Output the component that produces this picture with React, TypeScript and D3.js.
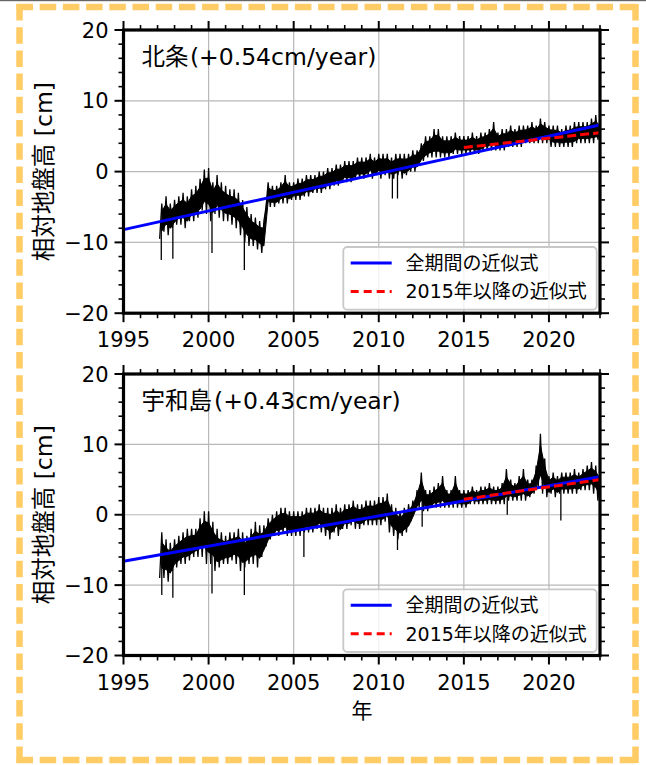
import React from 'react';
import * as d3 from 'd3';

// ---------- data (cm), sampled every 0.25 yr from 1997.25 to 2023.00 ----------
const SAMPLE_START = 1997.25;
const SAMPLE_STEP = 0.25;

// 北条 upper / lower envelope of the daily series
const hojoHi = [
  -4.5, -3.5, -4.5,
  -4, -3.5, -3, -3.5,
  -2.5, -2, -1, 0.3,
  0.5, -1.5, -0.5, -1.5,
  -2, -2.5, -2.5, -3,
  -4, -5, -6, -6.5,
  -7, -7, -1.5, -2,
  -2, -1.5, -0.5, -1.5,
  -1.5, -1, -1, -0.5,
  -0.5, -0.5, 0, 0,
  0.5, 0.5, 1, 1,
  1.5, 1.5, 1.5, 2,
  2, 2, 2.5, 2,
  2.5, 2.5, 2.5, 2,
  2.5, 2.5, 2.5, 2.5,
  3, 3, 4, 5,
  5, 6, 6, 5,
  5, 5, 5.5, 5,
  5, 5, 5.5, 5,
  5.5, 5.5, 6, 7,
  5.5, 6, 6, 6.5,
  6, 6.5, 6.5, 6.5,
  7, 6.5, 7.5, 7,
  6.5, 6.5, 6.5, 6,
  6.5, 6.5, 7, 7,
  7, 7, 7.5, 8,
  7,
];
const hojoLo = [
  -9.5, -8.5, -9,
  -8, -7.5, -7.5, -8,
  -7, -7, -6.5, -5.5,
  -6, -7, -6, -6.5,
  -7, -7, -7.5, -8,
  -9, -10, -10.5, -10.5,
  -11, -11.5, -5, -5,
  -5, -4.5, -4.5, -4.5,
  -4, -4, -4, -3.5,
  -3.5, -3, -3, -3,
  -2.5, -2.5, -2, -2,
  -1.5, -1.5, -1.5, -1,
  -1, -1, -0.5, -1,
  -0.5, -1, -0.5, -1,
  -1, -0.5, -1, -0.5,
  0, 0, 1, 1.5,
  2, 2, 2, 2,
  2, 2, 2.5, 2.5,
  2.5, 2.5, 2.5, 2.5,
  2.5, 3, 3, 3,
  3, 3, 3, 3.5,
  3.5, 3.5, 3.5, 4,
  4, 4, 4, 4,
  4, 3.5, 3.5, 3.5,
  3.5, 3.5, 3.5, 4,
  4, 4, 4, 4,
  4.5,
];
const hojoSpikes: [number, number][] = [
  [1997.22, -12.5], [1997.9, -12.3], [2000.2, -11.5], [2002.1, -13.9],
  [2010.8, -3.8], [2011.1, -3.8],
];

// 宇和島 upper / lower envelope
const uwaHi = [
  -2.5, -3.5, -4,
  -3.5, -3, -2.5, -2,
  -2, -2, -0.5, 0.5,
  0.5, -1, -2, -2.5,
  -3, -2.5, -2.5, -2,
  -2.5, -3, -2, -1,
  -1.5, -1.5, -0.5, 0,
  0.5, 1, 1, 0.5,
  0.5, 0.5, 0.5, 1,
  1, 1, 1.5, 1,
  1, 1, 1.5, 1,
  1.5, 1.5, 2, 1.5,
  1.5, 2, 2, 2,
  2.5, 2.5, 3, 1.5,
  1, 0.5, 1, 1.5,
  2, 3.5, 6, 3.5,
  3.5, 4, 4.5, 5.5,
  3.5, 3.5, 5.5, 3.5,
  3.5, 3.5, 4, 3.5,
  4, 4, 4.5, 4,
  4, 4.5, 6.5, 5,
  4.5, 5.5, 6.5, 5,
  5, 7, 11.5, 8,
  5.5, 6, 5.5, 6,
  6, 6, 6.5, 6,
  6.5, 7, 7.5, 7,
  6,
];
const uwaLo = [
  -9, -9, -9.5,
  -8, -7.5, -7, -7,
  -6.5, -6, -6, -6,
  -7, -7, -8, -7.5,
  -7, -7, -6.5, -7,
  -8, -7.5, -7, -7,
  -7.5, -6, -4.5, -3.5,
  -3, -3, -2.5, -3,
  -3, -3, -3, -2.5,
  -2.5, -2.5, -2, -2.5,
  -3, -3.5, -2.5, -3,
  -2, -2, -1.5, -2,
  -2, -1.5, -1.5, -1.5,
  -1.5, -1.5, -1, -2.5,
  -3, -3.5, -3, -2.5,
  -1, 0.5, 1, 0.5,
  0.5, 1, 1, 1,
  1, 1, 1, 1,
  1, 1, 1.5, 1.5,
  1.5, 1.5, 1.5, 1.5,
  1.5, 1.5, 1.5, 2,
  2, 2, 2, 2,
  2.5, 3, 4, 3,
  2.5, 3, 2.5, 3,
  3, 3, 3, 3,
  3.5, 3.5, 3.5, 3,
  2,
];
const uwaSpikes: [number, number][] = [
  [1997.25, -11.4], [1997.9, -11.8], [2000.2, -11.2], [2002.1, -11.4],
  [2005.6, -6], [2011.1, -5], [2012.55, -1.7], [2017.55, 0], [2020.7, -0.8],
];

// linear fits: [year, cm]
const hojoFitAll: [number, number][] = [[1995, -8.2], [2023, 6.6]];
const hojoFit2015: [number, number][] = [[2015, 3.4], [2023, 5.5]];
const uwaFitAll: [number, number][] = [[1995, -6.6], [2023, 5.4]];
const uwaFit2015: [number, number][] = [[2015, 2.2], [2023, 5.0]];

const stationNames = ['北条', '宇和島'];
const rateLabels = ['(+0.54cm/year)', '(+0.43cm/year)'];
const legendLabels = ['全期間の近似式', '2015年以降の近似式'];
const xMajorTicks = [1995, 2000, 2005, 2010, 2015, 2020];
const yMajorTicks = [-20, -10, 0, 10, 20];
const xDomain = [1995, 2023];
const yDomain = [-20, 20];
const yLabel = '相対地盤高 [cm]';
const xLabel = '年';

const FONT = "'DejaVu Sans', 'Noto Sans CJK JP', sans-serif";

type PanelProps = {
  top: number;
  bottom: number;
  hi: number[];
  lo: number[];
  spikes: [number, number][];
  fitAll: [number, number][];
  fit2015: [number, number][];
  name: string;
  rate: string;
  id: string;
};

function Panel({ top, bottom, hi, lo, spikes, fitAll, fit2015, name, rate, id }: PanelProps) {
  const left = 123.5;
  const right = 600;
  const x = d3.scaleLinear().domain(xDomain).range([left, right]);
  const y = d3.scaleLinear().domain(yDomain).range([bottom, top]);
  const line = d3.line<[number, number]>().x((d) => x(d[0])).y((d) => y(d[1]));

  const years = hi.map((_, i) => SAMPLE_START + i * SAMPLE_STEP);
  // jagged outline: alternate between the envelope extremes
  const pts: [number, number][] = [];
  years.forEach((t, i) => {
    pts.push([t - SAMPLE_STEP / 2, lo[i]]);
    pts.push([t, hi[i]]);
  });
  const dataPath = line(pts) || '';
  // solid core of the dense daily band
  const core = d3
    .area<number>()
    .x((_, i) => x(years[i]))
    .y0((_, i) => y(lo[i] + 0.22 * (hi[i] - lo[i])))
    .y1((_, i) => y(hi[i] - 0.22 * (hi[i] - lo[i])));
  const corePath = core(hi) || '';
  const spikePath = spikes
    .map(([t, v]) => {
      const i = Math.max(0, Math.min(hi.length - 1, Math.round((t - SAMPLE_START) / SAMPLE_STEP)));
      const mid = (hi[i] + lo[i]) / 2;
      return `M${x(t)},${y(mid)}L${x(t)},${y(v)}`;
    })
    .join('');

  const xMinor = d3.range(xDomain[0], xDomain[1] + 1, 1).filter((v) => !xMajorTicks.includes(v));
  const yMinor = d3.range(yDomain[0], yDomain[1] + 1, 2).filter((v) => !yMajorTicks.includes(v));
  const MAJ = 9;
  const MIN = 5;

  const legX = 343.3;
  const legW = 253.4;
  const legH = 62.7;
  const legY = bottom - 3.5 - legH;

  const nameWidth = name.length * 24.2;
  const titleY = top + 27;

  return (
    <g>
      <defs>
        <clipPath id={id}>
          <rect x={left} y={top} width={right - left} height={bottom - top} />
        </clipPath>
      </defs>
      {/* grid */}
      <g stroke="#b8b8b8" strokeWidth={1.2}>
        {xMajorTicks.filter((v) => v > xDomain[0]).map((v) => (
          <line key={'gx' + v} x1={x(v)} x2={x(v)} y1={top} y2={bottom} />
        ))}
        {yMajorTicks.filter((v) => v > yDomain[0] && v < yDomain[1]).map((v) => (
          <line key={'gy' + v} x1={left} x2={right} y1={y(v)} y2={y(v)} />
        ))}
      </g>
      <g clipPath={`url(#${id})`}>
        <path d={corePath} fill="#000" stroke="#000" strokeWidth={1} />
        <path d={dataPath} fill="none" stroke="#000" strokeWidth={1.3} strokeLinejoin="miter" />
        <path d={spikePath} fill="none" stroke="#000" strokeWidth={1.3} />
        <path d={line(fitAll) || ''} fill="none" stroke="#0000ff" strokeWidth={3} />
        <path d={line(fit2015) || ''} fill="none" stroke="#ff0000" strokeWidth={3} strokeDasharray="9 4" />
      </g>
      {/* ticks */}
      <g stroke="#000">
        {xMajorTicks.map((v) => (
          <g key={'xt' + v} strokeWidth={2}>
            <line x1={x(v)} x2={x(v)} y1={bottom} y2={bottom + MAJ} />
            <line x1={x(v)} x2={x(v)} y1={top} y2={top - MAJ} />
          </g>
        ))}
        {xMinor.map((v) => (
          <g key={'xm' + v} strokeWidth={1.6}>
            <line x1={x(v)} x2={x(v)} y1={bottom} y2={bottom + MIN} />
            <line x1={x(v)} x2={x(v)} y1={top} y2={top - MIN} />
          </g>
        ))}
        {yMajorTicks.map((v) => (
          <g key={'yt' + v} strokeWidth={2}>
            <line x1={left} x2={left - MAJ} y1={y(v)} y2={y(v)} />
            <line x1={right} x2={right + MAJ} y1={y(v)} y2={y(v)} />
          </g>
        ))}
        {yMinor.map((v) => (
          <g key={'ym' + v} strokeWidth={1.6}>
            <line x1={left} x2={left - MIN} y1={y(v)} y2={y(v)} />
            <line x1={right} x2={right + MIN} y1={y(v)} y2={y(v)} />
          </g>
        ))}
      </g>
      <rect x={left} y={top} width={right - left} height={bottom - top} fill="none" stroke="#000" strokeWidth={3.2} />
      {/* tick labels */}
      <g fontSize={21} fill="#000">
        {xMajorTicks.map((v) => (
          <text key={'xl' + v} x={x(v)} y={bottom + 34} textAnchor="middle">
            {String(v)}
          </text>
        ))}
        {yMajorTicks.map((v) => (
          <text key={'yl' + v} x={108.5} y={y(v)} dy="0.36em" textAnchor="end">
            {v < 0 ? '\u2212' + Math.abs(v) : String(v)}
          </text>
        ))}
      </g>
      {/* y label */}
      <text
        transform={`translate(44,${(top + bottom) / 2}) rotate(-90)`}
        textAnchor="middle"
        dominantBaseline="central"
        fontSize={23.5}
      >
        {yLabel}
      </text>
      {/* title */}
      <text x={141.5} y={titleY} dominantBaseline="central" fontSize={23.5}>
        {name}
      </text>
      <text x={141.5 + nameWidth} y={titleY} dominantBaseline="central" fontSize={23.5}>
        {rate}
      </text>
      {/* legend */}
      <rect x={legX} y={legY} width={legW} height={legH} rx={4} fill="#fff" fillOpacity={0.8} stroke="#c8c8c8" strokeWidth={1.8} />
      <line x1={350.7} x2={391.7} y1={legY + 16} y2={legY + 16} stroke="#0000ff" strokeWidth={3} />
      <line x1={350.7} x2={391.7} y1={legY + 44.4} y2={legY + 44.4} stroke="#ff0000" strokeWidth={3} strokeDasharray="8 5" />
      <text x={405.5} y={legY + 16} dominantBaseline="central" fontSize={19}>
        {legendLabels[0]}
      </text>
      <text x={405.5} y={legY + 44.4} dominantBaseline="central" fontSize={19}>
        {legendLabels[1]}
      </text>
    </g>
  );
}

export default function App() {
  const borderColor = '#ffcc66';
  const dash = '16.5 6.7';
  return (
    <svg
      width={646}
      height={765}
      style={{ position: 'absolute', left: 0, top: 0, display: 'block' }}
      fontFamily={FONT}
    >
      <rect x={0} y={0} width={646} height={765} fill="#fff" />
      <rect x={0} y={0} width={646} height={1.2} fill="#666" />
      <g stroke={borderColor} strokeWidth={6.5} fill="none" strokeDasharray={dash}>
        <line x1={16.5} y1={7} x2={638.5} y2={7} />
        <line x1={19.5} y1={4} x2={19.5} y2={763} />
        <line x1={635.5} y1={4} x2={635.5} y2={763} />
        <line x1={16.5} y1={760} x2={638.5} y2={760} />
      </g>
      <Panel
        id="clipTop"
        top={30}
        bottom={313.2}
        hi={hojoHi}
        lo={hojoLo}
        spikes={hojoSpikes}
        fitAll={hojoFitAll}
        fit2015={hojoFit2015}
        name={stationNames[0]}
        rate={rateLabels[0]}
      />
      <Panel
        id="clipBottom"
        top={374}
        bottom={655.5}
        hi={uwaHi}
        lo={uwaLo}
        spikes={uwaSpikes}
        fitAll={uwaFitAll}
        fit2015={uwaFit2015}
        name={stationNames[1]}
        rate={rateLabels[1]}
      />
      <text x={362} y={711} textAnchor="middle" dominantBaseline="central" fontSize={21}>
        {xLabel}
      </text>
    </svg>
  );
}
